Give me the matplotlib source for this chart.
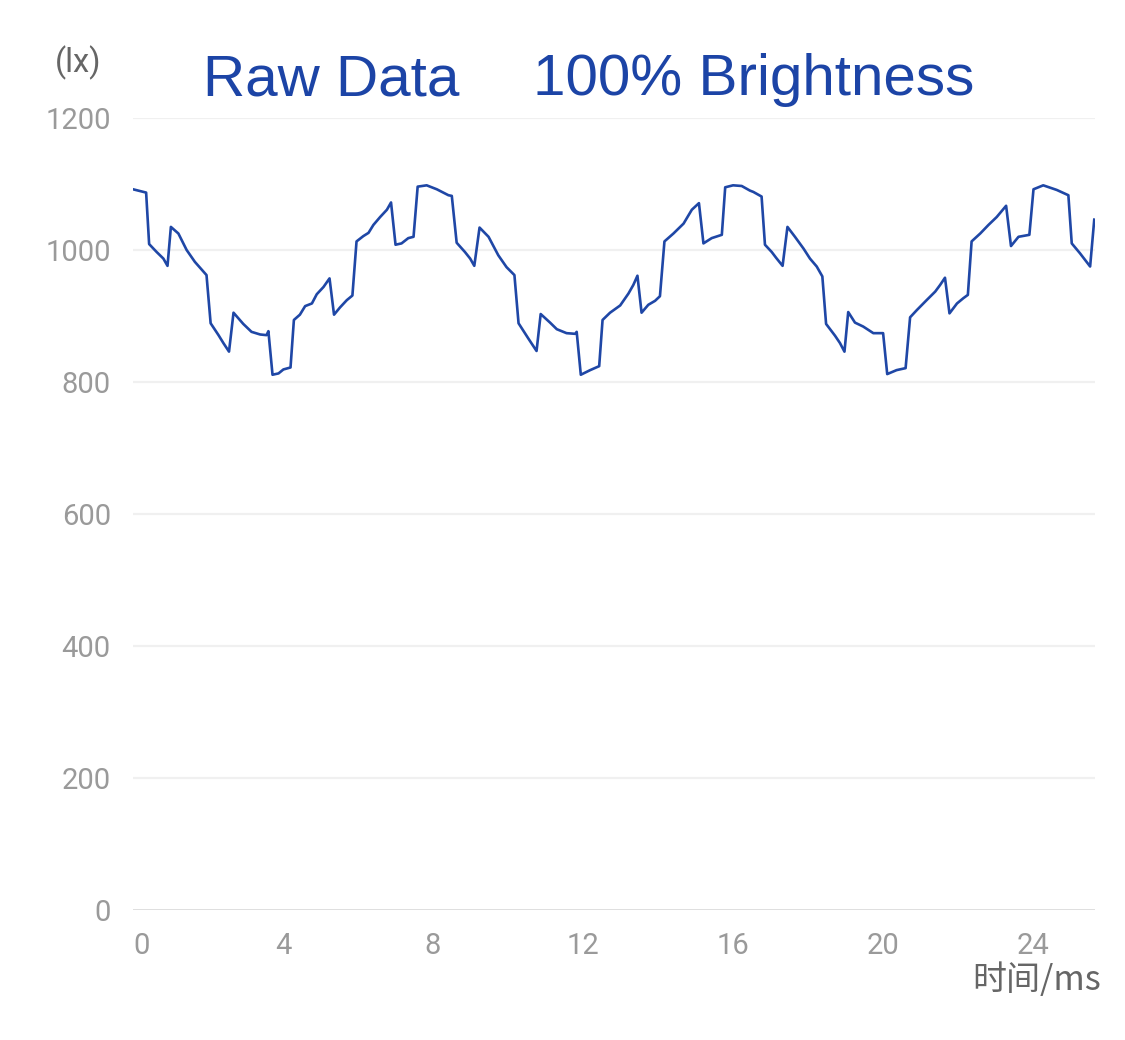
import matplotlib.pyplot as plt
from matplotlib.ticker import FixedLocator

plt.rcParams['font.family'] = ['Roboto', 'Noto Sans CJK SC', 'DejaVu Sans']

# ---- data (time in ms, illuminance in lx) ----
time_ms = [
    0.00, 0.35, 0.43, 0.63, 0.81, 0.92, 1.01, 1.21, 1.43, 1.65, 1.96,
    2.07, 2.28, 2.41, 2.56, 2.68, 2.94, 3.16, 3.39, 3.56, 3.61,
    3.72, 3.88, 4.01, 4.20, 4.29, 4.45, 4.59, 4.77, 4.90, 5.08, 5.24,
    5.36, 5.52, 5.70, 5.85, 5.96, 6.14, 6.28, 6.41, 6.59, 6.77, 6.88,
    7.00, 7.16, 7.34, 7.48, 7.59, 7.83, 8.10, 8.41, 8.50,
    8.63, 8.85, 8.99, 9.10, 9.24, 9.48, 9.74, 9.96, 10.17,
    10.28, 10.54, 10.76, 10.87, 11.12, 11.30, 11.56, 11.79, 11.83,
    11.94, 12.19, 12.43, 12.52, 12.72, 12.99, 13.21, 13.34, 13.45,
    13.56, 13.74, 13.92, 14.05, 14.17, 14.41, 14.68, 14.90, 15.09,
    15.21, 15.43, 15.70, 15.79, 16.00, 16.23, 16.45, 16.54, 16.76,
    16.85, 17.03, 17.15, 17.32, 17.45, 17.65, 17.88, 18.05, 18.23, 18.38,
    18.48, 18.72, 18.85, 18.97, 19.07, 19.25, 19.47, 19.74, 20.00,
    20.11, 20.36, 20.60, 20.72, 20.90, 21.16, 21.39, 21.52, 21.65,
    21.77, 21.97, 22.14, 22.26, 22.36, 22.59, 22.81, 23.03, 23.28,
    23.41, 23.61, 23.90, 24.01, 24.27, 24.63, 24.94,
    25.03, 25.25, 25.52, 25.63,
]
lux = [
    1092, 1087, 1009, 997, 987, 976, 1035, 1025, 1000, 982, 962,
    889, 871, 859, 846, 905, 888, 876, 872, 871, 877,
    811, 813, 819, 822, 894, 902, 915, 919, 933, 944, 957,
    902, 913, 924, 931, 1013, 1021, 1026, 1038, 1050, 1061, 1072,
    1008, 1010, 1018, 1020, 1096, 1098, 1092, 1083, 1082,
    1011, 997, 987, 976, 1034, 1020, 992, 974, 962,
    889, 866, 847, 903, 890, 880, 874, 873, 876,
    811, 818, 824, 894, 905, 916, 934, 947, 961,
    905, 917, 923, 930, 1013, 1025, 1040, 1061, 1071,
    1010, 1018, 1023, 1095, 1098, 1097, 1090, 1088, 1081,
    1008, 997, 988, 976, 1035, 1020, 1002, 987, 975, 960,
    888, 870, 859, 846, 906, 890, 884, 874, 874,
    812, 818, 821, 898, 909, 924, 937, 947, 958,
    904, 919, 927, 932, 1013, 1025, 1038, 1050, 1067,
    1006, 1020, 1023, 1092, 1098, 1091, 1083,
    1010, 995, 975, 1046,
]

x_ticks = [0, 4, 8, 12, 16, 20, 24]
y_ticks = [0, 200, 400, 600, 800, 1000, 1200]

line_blue = '#1f47a6'
title_blue = '#1c44a6'

fig = plt.figure(figsize=(11.25, 10.4), dpi=100)
ax = fig.add_axes([133 / 1125, 1 - 910 / 1040, (1095 - 133) / 1125, (910 - 118) / 1040])

# gridlines (light) and zero baseline (a bit darker)
for yv in y_ticks[1:]:
    ax.axhline(yv, color='#f0f0f0', lw=1.6, zorder=0)
ax.axhline(0, color='#dcdcdc', lw=2.0, zorder=1)

ax.plot(time_ms, lux, color=line_blue, lw=1.9, zorder=3)

ax.set_xlim(0, 25.65)
ax.set_ylim(0, 1200)
for s in ax.spines.values():
    s.set_visible(False)

ax.xaxis.set_major_locator(FixedLocator(x_ticks))
ax.yaxis.set_major_locator(FixedLocator(y_ticks))
ax.set_xticklabels([str(v) for v in x_ticks])
ax.set_yticklabels([str(v) for v in y_ticks])
ax.tick_params(axis='both', length=0, labelsize=21, labelcolor='#9a9a9a')
ax.tick_params(axis='x', pad=16)
ax.tick_params(axis='y', pad=16)
# first x label sits left-aligned at the origin
ax.get_xticklabels()[0].set_horizontalalignment('left')

# axis captions
fig.text(1101 / 1125, 1 - 981 / 1040, '时间/ms', ha='right', va='center',
         fontsize=24.5, color='#666666', family=['Noto Sans CJK SC', 'DejaVu Sans'])
fig.text(78 / 1125, 1 - 63 / 1040, '(lx)', ha='center', va='center',
         fontsize=23.5, color='#666666')

# title
fig.text(203 / 1125, 1 - 95 / 1040, 'Raw Data', ha='left', va='baseline',
         fontsize=42, color=title_blue, family='Liberation Sans')
fig.text(533 / 1125, 1 - 95 / 1040, '100% Brightness', ha='left', va='baseline',
         fontsize=42, color=title_blue, family='Liberation Sans')

fig.savefig('out.png', dpi=100, facecolor='white')
